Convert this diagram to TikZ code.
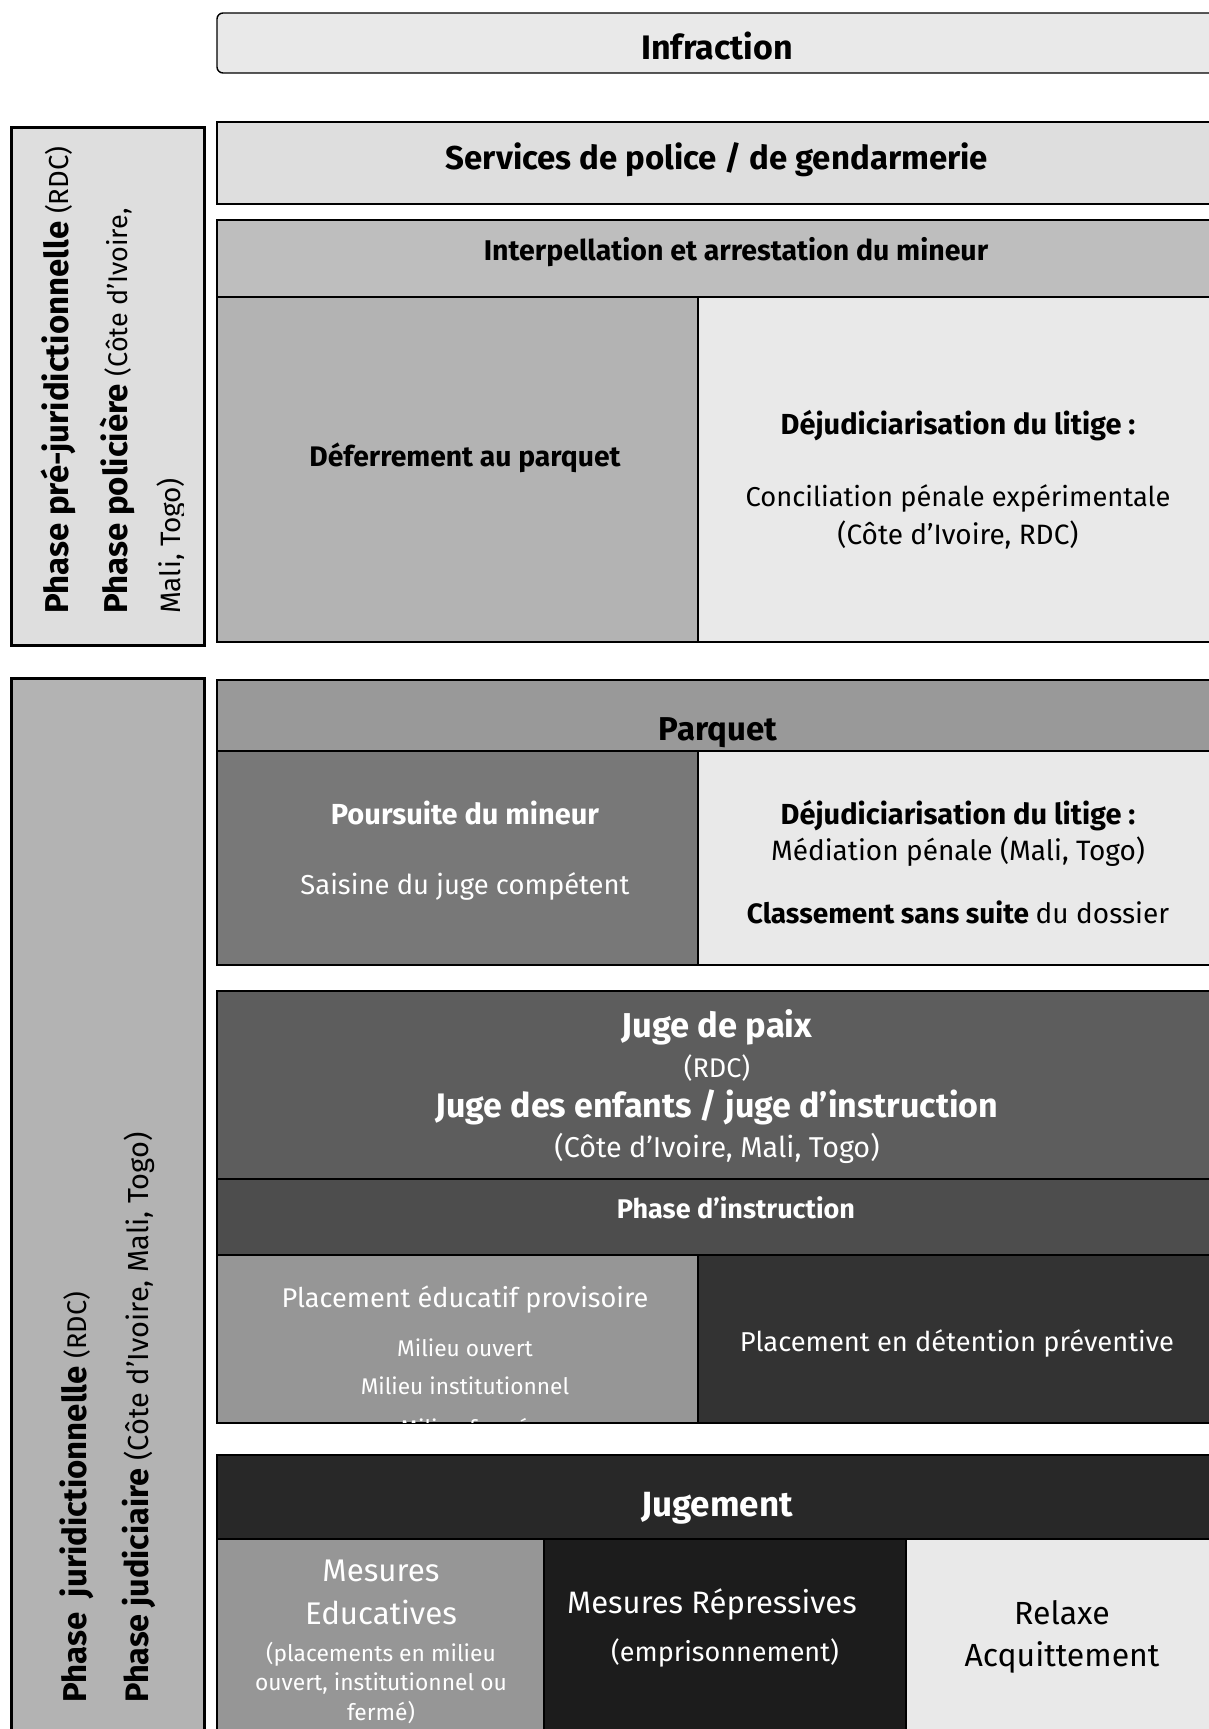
\documentclass[tikz,border=0pt]{standalone}
\usepackage{fontspec}
\setmainfont{Fira Sans}
\usetikzlibrary{positioning}

\definecolor{grisA}{HTML}{E9E9E9}
\definecolor{grisB}{HTML}{DEDEDE}
\definecolor{grisC}{HTML}{BEBEBE}
\definecolor{grisD}{HTML}{B3B3B3}
\definecolor{grisE}{HTML}{999999}
\definecolor{grisF}{HTML}{969696}
\definecolor{grisG}{HTML}{787878}
\definecolor{grisH}{HTML}{5D5D5D}
\definecolor{grisI}{HTML}{4D4D4D}
\definecolor{grisJ}{HTML}{333333}
\definecolor{grisK}{HTML}{282828}
\definecolor{grisL}{HTML}{1C1C1C}

\newcommand{\fsz}[1]{\fontsize{#1}{#1}\selectfont}

\begin{document}
\begin{tikzpicture}[x=1pt, y=-1pt,
		cell/.style={draw=black, line width=1.4pt, anchor=north west, inner sep=0pt, outer sep=0pt},
		phasebox/.style={draw=black, line width=3pt, anchor=north west, inner sep=0pt, outer sep=0pt},
		lbl/.style={inner sep=0pt, anchor=mid, font=\fsz{#1}},
		side/.style={inner sep=0pt, rotate=90, anchor=base west, font=\fsz{#1}}]
	% Bildbereich
	\useasboundingbox (0,0) rectangle (1209,1729);
	\clip (0,0) rectangle (1209,1729);
	% Infraction
	\node[cell, fill=grisA, rounded corners=6pt, minimum width=1000pt, minimum height=60pt] (infr) at (217,13) {};
	\node[lbl=34] (tinfr) at (717,57) {\bfseries Infraction};
	% Phase policiere
	\node[phasebox, fill=grisB, minimum width=193pt, minimum height=518pt] (pol) at (11,127) {};
	\node[side=33] (pol1) at (68,614) {\bfseries Phase pré-juridictionnelle \fsz{27.5}\mdseries(RDC)};
	\node[side=33] (pol2) at (127,614) {\bfseries Phase policière \fsz{27}\mdseries(Côte d’Ivoire,};
	\begin{scope}
		\clip (11,127) rectangle (183,645);
		\node[side=28] (pol3) at (180,614) {Mali, Togo)};
	\end{scope}
	% Police / gendarmerie
	\node[cell, fill=grisB, minimum width=1000pt, minimum height=82pt] (serv) at (217,122) {};
	\node[lbl=33] (tserv) at (717,167) {\bfseries Services de police / de gendarmerie};
	\node[cell, fill=grisC, minimum width=1000pt, minimum height=77pt] (interp) at (217,220) {};
	\node[lbl=28.5] (tinterp) at (736,258) {\bfseries Interpellation et arrestation du mineur};
	\node[cell, fill=grisD, minimum width=481pt, minimum height=345pt] (defer) at (217,297) {};
	\node[lbl=28.3] (tdefer) at (465,464) {\bfseries Déferrement au parquet};
	\node[cell, fill=grisA, minimum width=519pt, minimum height=345pt] (dejud) at (698,297) {};
	\node[lbl=29] (tdejud) at (958,432) {\bfseries Déjudiciarisation du litige :};
	\node[lbl=27.3] (tconc) at (958,504) {Conciliation pénale expérimentale};
	\node[lbl=28] (tconc2) at (958,542) {(Côte d’Ivoire, RDC)};
	% Phase judiciaire
	\node[phasebox, fill=grisD, minimum width=193pt, minimum height=1100pt] (jud) at (11,678) {};
	\node[side=33] (jud1) at (86,1703) {\bfseries Phase~~juridictionnelle \fsz{27}\mdseries(RDC)};
	\node[side=32.5] (jud2) at (148,1703) {\bfseries Phase judiciaire \fsz{29}\mdseries(Côte d’Ivoire, Mali, Togo)};
	% Parquet
	\node[cell, fill=grisE, minimum width=1000pt, minimum height=71pt] (parq) at (217,680) {};
	\node[lbl=33] (tparq) at (718,738) {\bfseries Parquet};
	\node[cell, fill=grisG, minimum width=481pt, minimum height=214pt] (pours) at (217,751) {};
	\node[lbl=29, text=white] (tpours) at (465,822) {\bfseries Poursuite du mineur};
	\node[lbl=27.4, text=white] (tsais) at (465,892) {Saisine du juge compétent};
	\node[cell, fill=grisA, minimum width=519pt, minimum height=214pt] (dejudb) at (698,751) {};
	\node[lbl=29] (tdejudb) at (958,822) {\bfseries Déjudiciarisation du litige :};
	\node[lbl=28] (tmed) at (958,858) {Médiation pénale (Mali, Togo)};
	\node[lbl=28] (tclass) at (958,921) {\bfseries Classement sans suite \mdseries du dossier};
	% Juges
	\node[cell, fill=grisH, minimum width=1000pt, minimum height=188pt] (juge) at (217,991) {};
	\node[lbl=34.5, text=white] (tjuge) at (717,1035) {\bfseries Juge de paix};
	\node[lbl=27, text=white] (tjuge2) at (717,1075) {(RDC)};
	\node[lbl=34, text=white] (tjuge3) at (717,1115) {\bfseries Juge des enfants / juge d’instruction};
	\node[lbl=28.7, text=white] (tjuge4) at (717,1155) {(Côte d’Ivoire, Mali, Togo)};
	\node[cell, fill=grisI, minimum width=1000pt, minimum height=76pt] (instr) at (217,1179) {};
	\node[lbl=27, text=white] (tinstr) at (736,1216) {\bfseries Phase d’instruction};
	\node[cell, fill=grisF, minimum width=481pt, minimum height=168pt] (plac) at (217,1255) {};
	\node[lbl=27.1, text=white] (tplac) at (465,1305) {Placement éducatif provisoire};
	\node[lbl=22.7, text=white] (tplac2) at (465,1354) {Milieu ouvert};
	\node[lbl=22.7, text=white] (tplac3) at (465,1392) {Milieu institutionnel};
	\begin{scope}
		\clip (217,1255) rectangle (698,1422);
		\node[lbl=22.7, text=white] (tplac4) at (465,1434) {Milieu fermé};
	\end{scope}
	\node[cell, fill=grisJ, minimum width=519pt, minimum height=168pt] (deten) at (698,1255) {};
	\node[lbl=27.3, text=white] (tdeten) at (957,1349) {Placement en détention préventive};
	% Jugement
	\node[cell, fill=grisK, minimum width=1000pt, minimum height=84pt] (jugt) at (217,1455) {};
	\node[lbl=35, text=white] (tjugt) at (717,1514) {\bfseries Jugement};
	\node[cell, fill=grisF, minimum width=327pt, minimum height=220pt] (educ) at (217,1539) {};
	\node[lbl=31.3, text=white] (teduc) at (381,1579) {Mesures};
	\node[lbl=31.3, text=white] (teduc2) at (381,1622) {Educatives};
	\node[lbl=22.8, text=white] (teduc3) at (381,1659) {(placements en milieu};
	\node[lbl=22.8, text=white] (teduc4) at (381,1688) {ouvert, institutionnel ou};
	\node[lbl=22.8, text=white] (teduc5) at (381,1718) {fermé)};
	\node[cell, fill=grisL, minimum width=362pt, minimum height=220pt] (repr) at (544,1539) {};
	\node[lbl=31, text=white] (trepr) at (712,1611) {Mesures Répressives};
	\node[lbl=27, text=white] (trepr2) at (725,1659) {(emprisonnement)};
	\node[cell, fill=grisA, minimum width=311pt, minimum height=220pt] (relax) at (906,1539) {};
	\node[lbl=32] (trelax) at (1062,1622) {Relaxe};
	\node[lbl=32] (trelax2) at (1062,1664) {Acquittement};
\end{tikzpicture}
\end{document}
